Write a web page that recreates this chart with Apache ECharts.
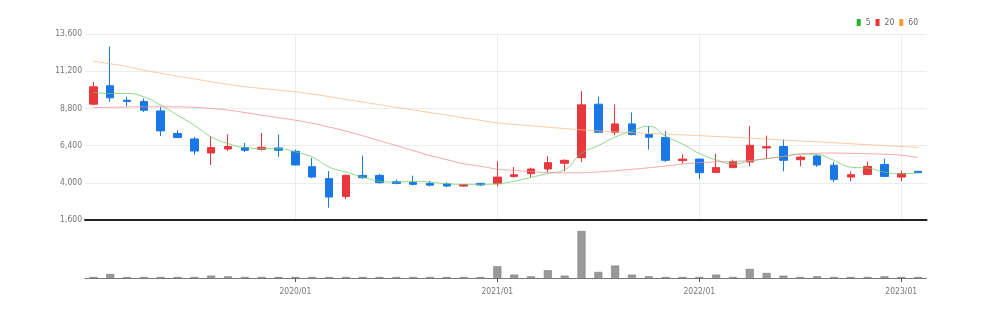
<!DOCTYPE html>
<html>
<head>
<meta charset="utf-8">
<script src="https://cdn.jsdelivr.net/npm/echarts@6/dist/echarts.min.js"></script>
<style>html,body{margin:0;padding:0;background:#fff}#c{width:985px;height:313px}</style>
</head>
<body>
<div id="c"></div>
<script>
const categories = ['2019/01','2019/02','2019/03','2019/04','2019/05','2019/06','2019/07','2019/08','2019/09','2019/10','2019/11','2019/12',
'2020/01','2020/02','2020/03','2020/04','2020/05','2020/06','2020/07','2020/08','2020/09','2020/10','2020/11','2020/12',
'2021/01','2021/02','2021/03','2021/04','2021/05','2021/06','2021/07','2021/08','2021/09','2021/10','2021/11','2021/12',
'2022/01','2022/02','2022/03','2022/04','2022/05','2022/06','2022/07','2022/08','2022/09','2022/10','2022/11','2022/12',
'2023/01','2023/02'];
const xTickLabels = ['2020/01','2021/01','2022/01','2023/01'];
const opens  = [9070,10260,9330,9250,8640,7180,6830,5920,6180,6270,6160,6250,6030,5040,4270,3120,4480,4480,4070,4030,3960,3920,3790,3960,3940,4400,4590,4890,5260,5620,9070,7260,7800,7110,6920,5430,5530,4670,4980,5340,6250,6340,5490,5730,5130,4370,4540,5190,4370,4740];
const closes = [10190,9480,9250,8680,7350,6920,6050,6270,6340,6100,6290,6100,5150,4370,3080,4480,4330,4010,3960,3900,3850,3790,3880,3860,4370,4520,4890,5300,5450,9030,7260,7800,7110,6940,5450,5530,4650,4980,5380,6420,6330,5450,5660,5150,4220,4520,5060,4410,4590,4650];
const lows   = [9000,9220,8940,8570,7020,6900,5820,5150,6050,5990,6100,5660,5120,4300,2390,2950,4260,3940,3900,3830,3770,3720,3750,3790,3770,4330,4330,4690,4740,5340,7260,7070,7060,6140,5340,5240,4240,4630,4950,5060,5560,4740,5060,5030,4050,4090,4480,4400,4110,4630];
const highs  = [10510,12780,9550,9440,8900,7390,6960,7000,7130,6570,7220,7110,6140,5600,4760,4540,5750,4590,4220,4460,4110,4030,3920,4000,5400,5020,4980,5710,5510,9910,9550,9050,8540,7670,7330,5840,5560,5880,5490,7670,7050,6790,5750,5800,5340,4740,5380,5560,4780,4760];
const ma5  = [9830,9760,9760,9550,9010,8360,7710,6960,6530,6270,6210,6200,5990,5660,5020,4690,4370,4110,4045,4100,4045,3940,3900,3900,3940,4100,4350,4600,4850,5900,6400,6950,7350,7650,7000,6500,5900,5480,5220,5400,5560,5700,5860,5820,5450,5010,4950,4690,4580,4650];
const ma20 = [8860,8870,8890,8900,8910,8900,8870,8800,8690,8530,8360,8200,8040,7840,7600,7330,7040,6720,6400,6080,5760,5490,5230,5070,4880,4800,4720,4660,4640,4650,4700,4780,4870,4970,5080,5200,5300,5350,5380,5440,5560,5700,5840,5900,5920,5900,5880,5840,5780,5630];
const ma60 = [11850,11680,11500,11260,11070,10880,10700,10520,10350,10200,10090,9980,9870,9720,9560,9380,9210,9040,8870,8700,8530,8370,8200,8030,7860,7770,7680,7590,7500,7420,7350,7290,7240,7190,7140,7090,7040,6990,6940,6880,6820,6760,6700,6640,6580,6520,6460,6400,6340,6280];
const volumes = [300,1200,300,100,100,100,100,700,500,300,300,300,100,100,300,300,300,100,100,300,300,100,300,300,3500,1000,500,2300,700,14000,1800,3700,1000,500,300,300,300,1000,300,2700,1500,700,300,500,300,300,300,500,300,200];
const yTickLabels = ['1,600','4,000','6,400','8,800','11,200','13,600'];
const maNames = ['5','20','60'];

const FONT = "'DejaVu Sans Condensed', 'Liberation Sans', sans-serif";
const candleData = opens.map((o, i) => [o, closes[i], lows[i], highs[i]]);
const isTick = (i) => xTickLabels.indexOf(categories[i]) >= 0;

const chart = echarts.init(document.getElementById('c'), null, {renderer: 'canvas'});
chart.setOption({
  animation: false,
  backgroundColor: '#fff',
  legend: {
    data: maNames,
    right: 62, top: 13,
    icon: 'rect', itemWidth: 4, itemHeight: 7, itemGap: 5,
    textStyle: {fontFamily: FONT, fontSize: 8.5, color: '#666'}
  },
  grid: [
    {left: 85, right: 58.5, top: 34, height: 186},
    {left: 85, right: 58.5, top: 231, height: 47}
  ],
  xAxis: [
    {type: 'category', gridIndex: 0, data: categories, boundaryGap: true,
     offset: 4,
     axisLine: {show: true, lineStyle: {color: '#222', width: 2}},
     axisTick: {show: false}, axisLabel: {show: false},
     splitLine: {show: true, alignWithLabel: true, interval: (i) => isTick(i), lineStyle: {color: '#ececec'}}},
    {type: 'category', gridIndex: 1, data: categories, boundaryGap: true,
     axisLine: {show: true, lineStyle: {color: '#777', width: 1}},
     axisTick: {show: true, alignWithLabel: true, interval: (i) => isTick(i), length: 4, lineStyle: {color: '#555'}},
     axisLabel: {show: true, interval: (i) => isTick(i), margin: 9, fontFamily: FONT, fontSize: 8.5, color: '#777'},
     splitLine: {show: false}}
  ],
  yAxis: [
    {type: 'value', gridIndex: 0, min: 1600, max: 13600, scale: true,
     axisLine: {show: false}, axisTick: {show: false}, axisLabel: {show: false}, splitLine: {show: false}},
    {type: 'value', gridIndex: 0, min: 0, max: yTickLabels.length - 1, interval: 1, position: 'left',
     axisLine: {show: false}, axisTick: {show: false},
     axisLabel: {formatter: (v) => yTickLabels[v] || '', fontFamily: FONT, fontSize: 8.5, color: '#777', margin: 3},
     splitLine: {show: true, lineStyle: {color: '#ececec'}}},
    {type: 'value', gridIndex: 1, min: 0, max: 'dataMax', show: false, splitLine: {show: false}}
  ],
  series: [
    {type: 'candlestick', name: 'price', xAxisIndex: 0, yAxisIndex: 0, data: candleData, barWidth: 8,
     itemStyle: {color: '#e8383d', color0: '#1a78e6', borderColor: '#e8383d', borderColor0: '#1a78e6', borderWidth: 1}},
    {type: 'line', name: maNames[0], xAxisIndex: 0, yAxisIndex: 0, data: ma5, smooth: true, symbol: 'none',
     itemStyle: {color: '#22b622'}, lineStyle: {color: '#66cc66', width: 1, opacity: 0.75}},
    {type: 'line', name: maNames[1], xAxisIndex: 0, yAxisIndex: 0, data: ma20, smooth: true, symbol: 'none',
     itemStyle: {color: '#ee3333'}, lineStyle: {color: '#f08a8e', width: 1, opacity: 0.75}},
    {type: 'line', name: maNames[2], xAxisIndex: 0, yAxisIndex: 0, data: ma60, smooth: true, symbol: 'none',
     itemStyle: {color: '#ff9933'}, lineStyle: {color: '#f8b880', width: 1, opacity: 0.75}},
    {type: 'bar', name: 'volume', xAxisIndex: 1, yAxisIndex: 2, data: volumes, barWidth: 8, barMinHeight: 1,
     itemStyle: {color: '#999', borderColor: '#777', borderWidth: 0.5}}
  ]
});
</script>
</body>
</html>
